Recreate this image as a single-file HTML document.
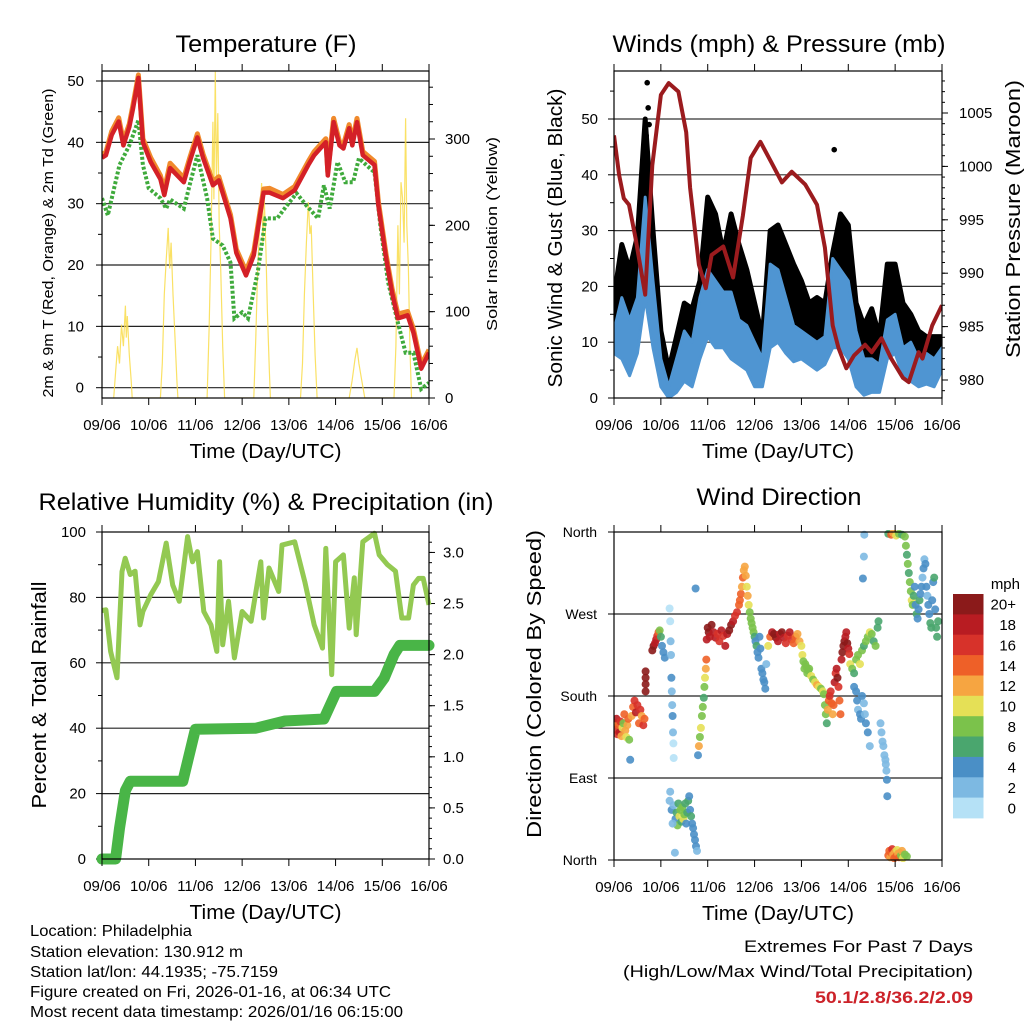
<!DOCTYPE html>
<html><head><meta charset="utf-8"><style>
html,body{margin:0;padding:0;background:#fff;}
svg{display:block;font-family:"Liberation Sans",sans-serif;}
</style></head><body>
<svg id="fig" width="1024" height="1024" viewBox="0 0 1024 1024" xmlns="http://www.w3.org/2000/svg">
<rect width="1024" height="1024" fill="#fff"/>
<g id="layer"></g>
</svg>
<script>
// ---------- DATA ----------
const dayLabels = ["09/06","10/06","11/06","12/06","13/06","14/06","15/06","16/06"];
// Temperature panel
const tempHours = [0,2,5,8.6,11,14,16,18.7,21,25,30,32,35,42,45,49,52,57,60,66,69,74,78,83,86,93,99,106,109,115,116,119,122,124,127,128.6,131,134,140,142,146,149,152,157,160,164,168];
const temp2mValues = [37.5,37.9,41.2,43.4,39.5,42.5,45.6,50.5,40,36.8,34,31.4,35.8,33.5,36.8,40.8,37.4,33,33.8,27.6,22,18.3,21.6,31.8,31.8,30.9,32.2,36.3,37.9,40,34.6,43.3,39.5,39,42.3,39.5,43.3,37.9,36.3,29.7,21,15.5,11.3,11.8,9,3.1,5.7];
const temp9mValues = [38,38.4,41.8,44,40.2,43,46.2,51,40.6,37.5,34.6,32.2,36.6,34.2,37.4,41.4,38,33.6,34.4,28.2,22.6,19,22.2,32.4,32.5,31.5,32.8,36.9,38.5,40.6,35.2,43.9,40.1,39.6,42.9,40.1,43.9,38.5,36.9,30.3,21.6,16.2,12,12.4,9.6,3.7,6.2];
const dewHours = [0,3,9,14,18.7,21,24,30,33,35,42,45,49,54,57,62,66,68,72,75,80,84,90,95,100,105,111,114,117,121,125,129,132,140,143,147,152,156,160,164,168];
const dewValues = [30.9,28.1,36.3,39.5,43.6,36.3,32.5,30.9,29.2,30.7,29.2,33,37.9,30.9,24.3,23.2,20.4,11.3,12.3,11.3,18.8,27.6,27.6,29.7,31.7,29.7,27.6,33,29.2,36.8,33.5,33.5,37.4,35.1,26.5,17.2,10.6,5.7,5.7,-0.2,0.8];
const solarHours = [6,7,8,9,10,11,12,12.5,13,14,15,15.5, 30,31,32,33,34,34.8,35.5,36.5,37.5,38.5,39, 54,55,56,57,57.5,58.2,58.8,59.5,60.2,61,62,63, 78,79,80,81,82,82.7,83.4,84.2,85,86,86.5, 102,103,104,105,106,106.8,107.5,108.5,109.5,110.5, 127,128.5,130,131,132,133.5,135, 150,151,152,152.8,153.6,154.4,155.2,156,156.6,157.4,158.2,159];
const solarValues = [0,30,60,40,85,60,107,70,95,50,20,0, 0,40,120,160,197,150,180,120,70,20,0, 0,80,180,320,230,378,250,330,200,150,60,0, 0,70,150,200,249,180,230,173,100,30,0, 0,40,120,180,227,190,200,120,50,0, 0,20,45,58,40,20,0, 0,60,200,120,250,232,180,324,200,150,60,0];
const tempTicks = [0,10,20,30,40,50];
const solarTicks = [0,100,200,300];
// Winds panel
const windHours = [0,4,8,12,16,20,24,28,32,36,40,44,48,52,56,60,64,68,72,76,80,84,88,92,96,100,104,108,112,116,120,124,128,132,136,140,144,148,152,156,160,164,168];
const gustHigh = [18,27.5,23,29,50,30,12,5,11,17,16,21,36,33,26,33,27.5,23,17,11,30,31,27.5,24,21,17,18,17,26,33,31,17,13,16,11,24,24,17,15,12,11,11,11];
const gustLow = [13,13,14,15,21,15,6,0.5,4,9,7,12,19,18,17,18,13,12,7,5,17,18,15,13,11,10,9,8,15,17,14,7,6,7,5,12,13,8,7,6,6,5,7];
const windHigh = [12,18,14,18,36,21,7,2,7,12,10,18,23,21,19,19,14,13,10,7,24,23,18,13,12,11,10,11,25,23,21,12,7,7,6,14,15,9,10,7,8,7,9];
const windLow = [8,7,4,8,18,9,2,0,1,3,2,7,11,9,9,7,6,5,2,2,9,10,8,6.5,7,6,5,6,9,9,7,2,0.5,1,1,7,8,4,3,2,2.5,2,5];
const gustPeakHours = [16.5,17,17.5,18,112.8];
const gustPeakValues = [47,56.5,52,49,44.5];
const presHours = [0,2.6,5,7.7,11,16,19.6,24,28,33,37,39,43.5,47,50,56,61,66,70,75,80.5,86,91,98,104,108,112,115,119,123,128.6,132,137,142,148,151,156,158,163,168];
const presValues = [1002.9,999.2,997,996.4,993.3,988,1000.1,1006.7,1007.8,1007,1003.2,998,990.8,988.6,991.7,992.5,989.6,995.4,1000.8,1002.3,1000.4,998.5,999.5,998.3,996.4,992.4,985.1,983,981.1,982.3,983.3,982.6,983.9,982,980.2,979.8,982.6,982,985.1,987];
const windTicks = [0,10,20,30,40,50];
const presTicks = [980,985,990,995,1000,1005];
// RH panel
const rhHours = [0,2,4.4,7.7,10.3,11.9,14.5,17,19.5,21,25,29,33,36.3,39.7,44,46.5,49,52.3,56,59,60.4,62,65,68,72,76.6,81.6,83,85.8,90.8,92.5,99,104.2,109,113.3,115,118,120,124,127,129.6,130.6,134,140,142.4,146.7,150.8,154,157.5,160,162.6,165,168];
const rhValues = [76,76.2,63.5,55.4,87.9,92,87,88,71.6,75.7,80.8,84.8,96.6,83.8,78.8,98.6,90.9,94,75.7,71.6,63.5,90.9,65.5,78.8,61.5,75.7,72.7,90.9,73.7,89,81.8,96,97,84.8,71.6,64.5,95,56.4,90.9,93,70.6,86,68.6,97,99.6,93,90,88,73.7,73.7,83.8,85.8,85.8,77.7];
const precipHours = [0,7,9,12,14.5,41.5,48,79,94,114,120.5,140,145,150,153,168];
const precipValues = [0,0,0.3,0.67,0.76,0.76,1.27,1.28,1.35,1.37,1.64,1.64,1.77,2.0,2.09,2.09];
const rhTicks = [0,20,40,60,80,100];
const precipTicks = ["0.0","0.5","1.0","1.5","2.0","2.5","3.0"];
// Wind direction panel
const wdHours = [0.3,0.8,1.3,1.8,2.3,2.8,3.3,3.8,4.3,4.8,5.3,5.8,6.3,6.8,7.3,7.8,8.3,9,9.8,10.5,11.2,12,12.8,13.5,14.2,15,15.6,16.2,16.2,16.2,16.2,
19.6,20.3,21,21.6,22.2,22.8,23.4,24,24.6,25.3,26,
28.5,28.8,29,29.2,29.4,29.6,29.8,30,30.2,30.4,30.6,
28.5,29.5,30.5,31.5,32,32.5,33,33.5,34,34.5,35,35.5,36,36.5,37,37.5,38,38.5,39,39.5,40,40.5,41,41.5,42,42.5,28.8,30,31.2,
41.8,43,43.5,44,44.5,45,45.5,46,46.3,46.6,47,47.3,
47.5,48,48.5,49,50,51,52,53,54,55,56,57,58,59,60,61,62,63,64,
64.5,65,65.5,66,66.5,67,67.5,68,68.5,69,69.5,70,70.5,71,
71.5,72,72.5,73,73.5,74,74.5,75,75.5,76,76.5,77,77.5,78,
79,80,81,82,83,84,85,86,87,88,89,90,91,92,93,94,95,96,
96.5,97,97.5,98,98.5,99,99.5,100,101,102,103,104,105,106,107,107.5,
108,108.5,109,109.5,110,110.5,111,111.5,112,112.5,113,113.5,114,114.5,115,115.5,116,
116.5,117,117.5,118,118.5,119,119.5,120,120.5,
121,122,123,124,125,126,127,128,129,130,131,132,133,134,135,135.5,
123,124,124.5,125,126,126.5,127,128,128.5,129,130,131,
127.5,128,128.2,
136.5,137,137.5,138,138.5,139,139.2,139.5,139.8,140,
140.5,141,141.5,142,142.5,143,143.5,144,144.5,145,145.5,146,146.5,147,147.5,148,149,150,
140.5,142,143,144.5,146,147.5,
149,149.5,150,150.5,151,151.5,152,152.5,153,153.5,154,154.5,155,155.5,156,156.5,157,157.5,158,158.5,159,159.5,160,160.5,161,161.5,162,162.5,163,163.5,164,164.5,165,165.5,166];
const wdDirections = [150,143,155,138,148,140,152,136,145,150,160,142,135,148,155,132,110,158,168,175,162,170,150,165,158,148,155,185,193,200,207,
230,235,238,242,246,250,252,245,235,228,222,
276,262,240,225,200,185,170,158,140,128,112,
65,55,60,45,52,38,62,48,55,42,58,45,50,62,40,52,65,70,55,48,40,35,28,22,15,10,75,40,8,
298,115,125,135,145,158,168,178,190,200,210,220,
242,255,250,245,258,250,244,248,240,252,246,235,248,252,258,262,268,272,280,
285,292,300,310,318,322,312,300,290,280,272,265,260,255,
250,245,240,235,228,222,245,232,210,205,198,195,188,215,
235,245,250,248,244,240,248,250,244,238,246,250,242,238,245,248,240,235,
225,218,210,215,212,205,208,210,202,198,195,192,190,188,185,182,
170,160,150,165,175,180,185,172,160,170,195,205,210,200,190,175,160,
220,228,235,240,245,250,238,232,226,
215,210,205,220,225,215,230,235,240,245,250,248,240,235,255,262,
190,185,175,165,160,155,180,172,160,150,140,125,
309,333,357,
150,140,130,125,115,110,105,98,88,70,
5,10,3,8,12,6,2,9,4,11,7,3,8,5,10,2,6,4,
358,357,359,356,358,357,
355,345,335,325,315,305,295,285,280,290,300,280,270,265,275,285,292,300,310,320,330,325,300,290,280,270,260,255,285,305,310,275,255,245,262];
const wdSpeeds = [12,16,18,16,14,18,16,12,10,8,14,12,10,12,14,8,4,12,14,16,18,16,14,16,12,16,14,20,20,20,20,
20,20,18,18,16,14,8,6,4,4,4,
1,1,2,2,4,2,2,4,2,1,1,
2,4,2,4,6,8,6,10,8,6,8,10,8,6,4,6,6,4,4,6,4,4,4,4,4,2,2,2,2,
4,4,12,8,10,8,8,6,8,10,12,14,
18,20,20,18,20,18,18,16,16,18,16,18,18,20,20,18,16,16,14,
14,14,12,14,12,12,12,10,12,10,8,8,8,8,
8,6,4,6,4,4,4,4,4,4,4,4,4,2,
10,14,18,20,20,18,18,20,18,16,16,18,16,14,14,12,12,10,
10,8,8,8,8,8,8,8,10,8,10,12,10,8,10,8,
8,8,6,12,14,16,16,14,12,14,18,16,18,20,16,14,14,
18,20,20,20,18,18,20,18,16,
10,8,6,8,8,10,8,6,8,8,10,8,6,8,6,6,
4,4,4,2,4,4,4,2,2,4,4,2,
4,2,2,
2,2,2,2,2,2,2,2,4,4,
14,14,12,14,16,12,14,12,14,10,12,14,12,8,12,10,8,8,
6,14,12,10,8,6,
8,8,6,8,6,8,8,10,8,6,4,4,6,4,4,6,4,4,2,4,2,4,4,2,4,4,6,6,4,4,6,4,6,6,6];
const dirTicks = [0,90,180,270,360];
const dirLabels = ["North","East","South","West","North"];
const speedColors = ['#B5E1F6','#7DB9E2','#4A8FC6','#4AA66E','#7BC24B','#E5E056','#F6A541','#EE6028','#D7322A','#B81C22','#8B1A1A'];
const speedLabels = ["0","2","4","6","8","10","12","14","16","18","20+"];

// ---------- HELPERS ----------
const NS = "http://www.w3.org/2000/svg";
const layer = document.getElementById('layer');
function mk(tag, attrs, parent, text){
  const e = document.createElementNS(NS, tag);
  for (const k in attrs) e.setAttribute(k, attrs[k]);
  if (text !== undefined) e.textContent = text;
  (parent || layer).appendChild(e);
  return e;
}
function line(x1,y1,x2,y2,stroke,w,parent){ return mk('line',{x1:x1,y1:y1,x2:x2,y2:y2,stroke:stroke,'stroke-width':w},parent); }
function linScale(d0,d1,r0,r1){ return v => r0 + (v-d0)/(d1-d0)*(r1-r0); }
function pts(xs, ys, fx, fy){ return xs.map((h,i)=>fx(h).toFixed(1)+','+fy(ys[i]).toFixed(1)).join(' '); }

function txt(x,y,s,size,anchor,name,parent,extra){
  const a = {x:x,y:y,'font-size':size,'text-anchor':anchor||'start',fill:'#000'};
  if (extra) for (const k in extra) a[k]=extra[k];
  const t = mk('text',a,parent,s);
  
  
  return t;
}
function rotTxt(x,y,s,size,len,name,angle){
  const t = mk('text',{x:0,y:0,'font-size':size,'text-anchor':'middle',transform:'translate('+x+','+y+') rotate('+angle+')',textLength:len,lengthAdjust:'spacingAndGlyphs'},null,s);
  
  
  return t;
}

function drawFrame(P, xf, name){
  const g = mk('g',{});
  
  
  mk('rect',{x:P.x0,y:P.y0,width:P.x1-P.x0,height:P.y1-P.y0,fill:'none',stroke:'#000','stroke-width':1.2},g);
  dayLabels.forEach((d,i)=>{
    const x = xf(i*24);
    line(x,P.y1,x,P.y1+7,'#000',1,g);
    line(x,P.y0,x,P.y0-7,'#000',1,g);
    txt(x,P.y1+32,d,15,'middle',name+'-x-tick-label',g);
  });
  txt((P.x0+P.x1)/2,P.y1+60,'Time (Day/UTC)',20,'middle',name+'-x-axis-title',g,{textLength:152,lengthAdjust:'spacingAndGlyphs'});
  return g;
}

// ---------- PANEL 1: TEMPERATURE ----------
(function(){
  const P={x0:102,x1:429,y0:71,y1:398};
  const xf=linScale(0,168,P.x0,P.x1);
  const yT=linScale(0,50,387.7,81);
  const yS=linScale(0,300,398,139);
  const g=mk('g',{});
  
  
  tempTicks.forEach(v=>{
    const y=yT(v);
    line(P.x0,y,P.x1,y,'#222',1.2,g);
    line(P.x0-6,y,P.x0,y,'#000',1,g);
    txt(P.x0-18,y+5,String(v),15,'end','temp-y-tick-label',g);
  });
  for(let v=5; v<=50; v+=10){ const y=yT(v); line(P.x0-4,y,P.x0,y,'#000',1,g); }
  solarTicks.forEach(v=>{
    const y=yS(v);
    line(P.x1,y,P.x1+6,y,'#000',1,g);
    txt(P.x1+16,y+5,String(v),15,'start','solar-y-tick-label',g);
  });
  for(let v=20; v<=360; v+=20){ const y=yS(v); if(y>P.y0) line(P.x1,y,P.x1+4,y,'#000',1,g); }
  const cp=mk('clipPath',{id:'clip1'},g); mk('rect',{x:P.x0,y:P.y0,width:P.x1-P.x0,height:P.y1-P.y0},cp);
  const solar=mk('polyline',{points:pts(solarHours,solarValues,xf,yS),fill:'none',stroke:'#F9DC4A','stroke-width':1.2,'stroke-opacity':0.85,'clip-path':'url(#clip1)'},g);
  
  
  const dew=mk('polyline',{points:pts(dewHours,dewValues,xf,yT),fill:'none',stroke:'#3FAA3C','stroke-width':4,'stroke-dasharray':'3 2','clip-path':'url(#clip1)'},g);
  
  
  const t9=mk('polyline',{points:pts(tempHours,temp9mValues,xf,yT),fill:'none',stroke:'#F08A2C','stroke-width':5,'stroke-linejoin':'round','clip-path':'url(#clip1)'},g);
  
  
  const t2=mk('polyline',{points:pts(tempHours,temp2mValues,xf,yT),fill:'none',stroke:'#D42027','stroke-width':4.5,'stroke-linejoin':'round','clip-path':'url(#clip1)'},g);
  
  
  drawFrame(P,xf,'temperature');
  txt(266,52,'Temperature (F)',24,'middle','temperature-title',g,{textLength:181,lengthAdjust:'spacingAndGlyphs'});
  rotTxt(53,243,'2m & 9m T (Red, Orange) & 2m Td (Green)',15,309,'temperature-y-axis-title',-90);
  rotTxt(497,234,'Solar Insolation (Yellow)',15,194,'solar-y-axis-title',-90);
})();

// ---------- PANEL 2: WINDS ----------
(function(){
  const P={x0:614,x1:942,y0:71,y1:398};
  const xf=linScale(0,168,P.x0,P.x1);
  const yW=linScale(0,50,398,119);
  const yP=linScale(980,1005,380,113);
  const g=mk('g',{});
  
  
  windTicks.forEach(v=>{
    const y=yW(v);
    if(v>0) line(P.x0,y,P.x1,y,'#333',1.2,g);
    line(P.x0-6,y,P.x0,y,'#000',1,g);
    txt(P.x0-16,y+5,String(v),15,'end','wind-y-tick-label',g);
  });
  for(let v=5; v<=55; v+=10){ const y=yW(v); line(P.x0-4,y,P.x0,y,'#000',1,g); }
  presTicks.forEach(v=>{
    const y=yP(v);
    line(P.x1,y,P.x1+6,y,'#000',1,g);
    txt(P.x1+17,y+5,String(v),15,'start','pressure-y-tick-label',g);
  });
  for(let v=979; v<=1009; v+=1){ const y=yP(v); if(y>P.y0&&y<P.y1) line(P.x1,y,P.x1+3,y,'#000',1,g); }
  const cp=mk('clipPath',{id:'clip2'},g); mk('rect',{x:P.x0,y:P.y0,width:P.x1-P.x0,height:P.y1-P.y0},cp);
  const gustPts = windHours.map((h,i)=>xf(h).toFixed(1)+','+yW(gustHigh[i]).toFixed(1)).concat(windHours.slice().reverse().map((h,j)=>{const i=windHours.length-1-j; return xf(h).toFixed(1)+','+yW(gustLow[i]).toFixed(1);})).join(' ');
  const gust=mk('polygon',{points:gustPts,fill:'#000',stroke:'#000','stroke-width':5,'stroke-linejoin':'round','clip-path':'url(#clip2)'},g);
  
  
  gustPeakHours.forEach((h,i)=>{
    const c=mk('circle',{cx:xf(h),cy:yW(gustPeakValues[i]),r:2.8,fill:'#000'},g);
    
    
  });
  const windPts = windHours.map((h,i)=>xf(h).toFixed(1)+','+yW(windHigh[i]).toFixed(1)).concat(windHours.slice().reverse().map((h,j)=>{const i=windHours.length-1-j; return xf(h).toFixed(1)+','+yW(windLow[i]).toFixed(1);})).join(' ');
  const wind=mk('polygon',{points:windPts,fill:'#4F95D2',stroke:'#4F95D2','stroke-width':3,'stroke-linejoin':'round','clip-path':'url(#clip2)'},g);
  
  
  const pres=mk('polyline',{points:pts(presHours,presValues,xf,yP),fill:'none',stroke:'#9B1B1E','stroke-width':4,'stroke-linejoin':'round','clip-path':'url(#clip2)'},g);
  
  
  drawFrame(P,xf,'winds');
  txt(779,52,'Winds (mph) & Pressure (mb)',24,'middle','winds-title',g,{textLength:333,lengthAdjust:'spacingAndGlyphs'});
  rotTxt(562,238,'Sonic Wind & Gust (Blue, Black)',20,299,'wind-y-axis-title',-90);
  rotTxt(1020,219,'Station Pressure (Maroon)',20,278,'pressure-y-axis-title',-90);
})();

// ---------- PANEL 3: RH & PRECIP ----------
(function(){
  const P={x0:102,x1:429,y0:532,y1:859};
  const xf=linScale(0,168,P.x0,P.x1);
  const yR=linScale(0,100,859,532);
  const yPr=linScale(0,3.2,859,532);
  const g=mk('g',{});
  
  
  rhTicks.forEach(v=>{
    const y=yR(v);
    if(v>0&&v<100) line(P.x0,y,P.x1,y,'#222',1.2,g);
    line(P.x0-6,y,P.x0,y,'#000',1,g);
    txt(P.x0-16,y+5,String(v),15,'end','rh-y-tick-label',g);
  });
  for(let v=10; v<=100; v+=20){ const y=yR(v); line(P.x0-4,y,P.x0,y,'#000',1,g); }
  precipTicks.forEach(s=>{
    const y=yPr(parseFloat(s));
    line(P.x1,y,P.x1+6,y,'#000',1,g);
    txt(P.x1+14,y+5,s,15,'start','precip-y-tick-label',g);
  });
  for(let v=0.1; v<3.2; v+=0.1){ const y=yPr(v); line(P.x1,y,P.x1+3,y,'#000',1,g); }
  const cp=mk('clipPath',{id:'clip3'},g); mk('rect',{x:P.x0-6,y:P.y0,width:P.x1-P.x0+12,height:P.y1-P.y0+6},cp);
  const rh=mk('polyline',{points:pts(rhHours,rhValues,xf,yR),fill:'none',stroke:'#93C952','stroke-width':5,'stroke-linejoin':'round'},g);
  
  
  const pr=mk('polyline',{points:pts(precipHours,precipValues,xf,yPr),fill:'none',stroke:'#49B547','stroke-width':11,'stroke-linejoin':'round','stroke-linecap':'round','clip-path':'url(#clip3)'},g);
  
  
  drawFrame(P,xf,'humidity');
  txt(266,510,'Relative Humidity (%) & Precipitation (in)',24,'middle','humidity-title',g,{textLength:455,lengthAdjust:'spacingAndGlyphs'});
  rotTxt(46,695,'Percent & Total Rainfall',20,227,'rh-y-axis-title',-90);
})();

// ---------- PANEL 4: WIND DIRECTION ----------
(function(){
  const P={x0:614,x1:942,y0:532,y1:860};
  const xf=linScale(0,168,P.x0,P.x1);
  const yD=linScale(0,360,860,532);
  const g=mk('g',{});
  
  
  dirTicks.forEach((v,i)=>{
    const y=yD(v);
    if(v>0&&v<360) line(P.x0,y,P.x1,y,'#222',1.2,g);
    line(P.x0-6,y,P.x0,y,'#000',1,g);
    txt(P.x0-17,y+5,dirLabels[i],14,'end','direction-y-tick-label',g);
  });
  const cp=mk('clipPath',{id:'clip4'},g); mk('rect',{x:P.x0,y:P.y0-2,width:P.x1-P.x0,height:P.y1-P.y0+4},cp);
  const dots=mk('g',{'clip-path':'url(#clip4)'},g);
  
  
  wdHours.forEach((h,i)=>{
    const ci=Math.min(10,Math.floor(wdSpeeds[i]/2));
    const c=mk('circle',{cx:xf(h).toFixed(1),cy:yD(wdDirections[i]).toFixed(1),r:4,fill:speedColors[ci],'fill-opacity':0.9},dots);
    
    
  });
  drawFrame(P,xf,'wind-direction');
  txt(779,505,'Wind Direction',24,'middle','wind-direction-title',g,{textLength:165,lengthAdjust:'spacingAndGlyphs'});
  rotTxt(541,684,'Direction (Colored By Speed)',20,308,'direction-y-axis-title',-90);
  // colorbar
  const cb=mk('g',{},g);
  
  
  const top=594, h=(818-594)/11;
  for(let k=0;k<11;k++){
    const idx=10-k;
    const r=mk('rect',{x:953,y:(top+k*h).toFixed(1),width:30.5,height:(h+0.4).toFixed(1),fill:speedColors[idx]},cb);
    
    
    txt(1016,top+k*h+h/2+5.5,speedLabels[idx],15,'end','colorbar-label',cb);
  }
  txt(1020,589,'mph',15,'end','colorbar-title',cb);
})();

// ---------- FOOTER ----------
(function(){
  const g=mk('g',{});
  
  
  const lines=[['Location: Philadelphia',162],['Station elevation: 130.912 m',213],['Station lat/lon: 44.1935; -75.7159',248],['Figure created on Fri, 2026-01-16, at 06:34 UTC',361],['Most recent data timestamp: 2026/01/16 06:15:00',373]];
  const ys=[936,957,977,997,1017];
  lines.forEach((l,i)=>txt(30,ys[i],l[0],16,'start','station-info-line',g,{textLength:l[1],lengthAdjust:'spacingAndGlyphs'}));
  const g2=mk('g',{});
  
  
  txt(973,952,'Extremes For Past 7 Days',17,'end','extremes-heading',g2,{textLength:229,lengthAdjust:'spacingAndGlyphs'});
  txt(973,977,'(High/Low/Max Wind/Total Precipitation)',17,'end','extremes-subheading',g2,{textLength:350,lengthAdjust:'spacingAndGlyphs'});
  txt(973,1003,'50.1/2.8/36.2/2.09',17,'end','extremes-values',g2,{fill:'#CC2229','font-weight':'bold',textLength:158,lengthAdjust:'spacingAndGlyphs'});
})();
</script>
</body></html>
